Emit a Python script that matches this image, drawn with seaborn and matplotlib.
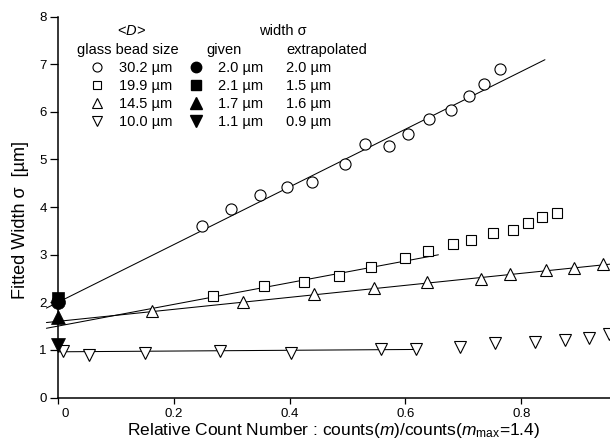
import numpy as np
import matplotlib
matplotlib.use("Agg")
import matplotlib.pyplot as plt
import matplotlib.transforms as mtransforms
import seaborn as sns

# Fitted width sigma versus relative count number for four glass-bead sizes
circ_x = [0.248, 0.299, 0.349, 0.396, 0.439, 0.496, 0.531, 0.572, 0.605, 0.641,
          0.678, 0.710, 0.735, 0.763]
circ_y = [3.60, 3.95, 4.25, 4.43, 4.53, 4.91, 5.32, 5.28, 5.53, 5.85,
          6.03, 6.34, 6.58, 6.90]

sq_x = [0.268, 0.356, 0.425, 0.485, 0.540, 0.600, 0.639, 0.682, 0.714, 0.751,
        0.785, 0.811, 0.836, 0.861]
sq_y = [2.14, 2.34, 2.43, 2.55, 2.74, 2.93, 3.08, 3.23, 3.30, 3.46,
        3.52, 3.66, 3.80, 3.88]

tri_x = [0.162, 0.320, 0.443, 0.545, 0.637, 0.730, 0.781, 0.843, 0.892, 0.942]
tri_y = [1.82, 2.01, 2.17, 2.29, 2.43, 2.50, 2.59, 2.67, 2.73, 2.80]

inv_x = [0.009, 0.054, 0.150, 0.280, 0.402, 0.558, 0.618, 0.694, 0.755, 0.823,
         0.876, 0.917, 0.952]
inv_y = [0.98, 0.89, 0.93, 0.97, 0.93, 1.02, 1.02, 1.07, 1.14, 1.17,
         1.21, 1.26, 1.33]

# linear fits: intercept, slope and x range of each fitted segment
fit_intercept = [2.0, 1.5, 1.6, 0.96]
fit_slope = [6.06, 2.28, 1.26, 0.08]
fit_xmin = [-0.02, -0.02, -0.02, 0.0]
fit_xmax = [0.841, 0.657, 0.955, 0.617]

# given widths, drawn on the sigma axis
given_sigma = [2.0, 2.1, 1.7, 1.1]

# table text
bead_sizes = ["30.2 µm", "19.9 µm", "14.5 µm", "10.0 µm"]
given_text = ["2.0 µm", "2.1 µm", "1.7 µm", "1.1 µm"]
extrap_text = ["2.0 µm", "1.5 µm", "1.6 µm", "0.9 µm"]

x_ticks = [0, 0.2, 0.4, 0.6, 0.8]
x_tick_labels = ["0", "0.2", "0.4", "0.6", "0.8"]
y_ticks = [0, 1, 2, 3, 4, 5, 6, 7, 8]

sns.set_theme(style="ticks")
plt.rcParams["font.family"] = ["Liberation Sans", "DejaVu Sans"]
plt.rcParams["mathtext.fontset"] = "custom"
plt.rcParams["mathtext.rm"] = "Liberation Sans"
plt.rcParams["mathtext.it"] = "Liberation Sans:italic"
plt.rcParams["axes.edgecolor"] = "black"
plt.rcParams["xtick.color"] = "black"
plt.rcParams["ytick.color"] = "black"
plt.rcParams["text.color"] = "black"
plt.rcParams["axes.labelcolor"] = "black"

W, H = 610, 440
fig = plt.figure(figsize=(W / 100, H / 100), dpi=100)
ax = fig.add_axes([58 / W, 1 - 397.5 / H, (W - 58) / W, (397.5 - 16.7) / H])

open_styles = [("o", 8.0), ("s", 6.8), ("^", 8.2), ("v", 8.2)]
series = [(circ_x, circ_y), (sq_x, sq_y), (tri_x, tri_y), (inv_x, inv_y)]

# fit lines
for a, b, x0, x1 in zip(fit_intercept, fit_slope, fit_xmin, fit_xmax):
    xs = np.array([x0, x1])
    sns.lineplot(x=xs, y=a + b * xs, ax=ax, color="black", linewidth=0.75,
                 clip_on=False, sort=False)

# open symbols: measured widths
for (mk, ms), (xs, ys) in zip(open_styles, series):
    sns.lineplot(x=xs, y=ys, ax=ax, marker=mk, linestyle="none", ms=ms,
                 mfc="white", mec="black", mew=0.8, color="black",
                 clip_on=False, zorder=3)

# filled symbols: given widths on the y axis
filled_styles = [("o", 10.0), ("s", 9.0), ("^", 10.5), ("v", 10.5)]
for (mk, ms), g in zip(filled_styles, given_sigma):
    sns.lineplot(x=[0.0], y=[g], ax=ax, marker=mk, linestyle="none", ms=ms,
                 mfc="black", mec="black", mew=0.5, color="black",
                 clip_on=False, zorder=5)

ax.set_xlim(0, (W - 58) / 579)
ax.set_ylim(0, 8)
ax.set_xticks(x_ticks)
ax.set_xticklabels(x_tick_labels)
ax.set_yticks(y_ticks)
ax.tick_params(axis="both", direction="out", width=0.9,
               labelsize=9.5, colors="black")
ax.tick_params(axis="x", length=4.5, pad=3)
ax.tick_params(axis="y", length=6, pad=2)
for side in ("top", "right"):
    ax.spines[side].set_visible(False)
for side in ("left", "bottom"):
    ax.spines[side].set_linewidth(1.1)
    ax.spines[side].set_color("black")

# nudge the "0" label away from the vertical axis
zero_lbl = ax.xaxis.get_major_ticks()[0].label1
zero_lbl.set_transform(zero_lbl.get_transform()
                       + mtransforms.ScaledTranslation(0.07, 0, fig.dpi_scale_trans))

ax.set_xlabel(r"Relative Count Number : counts($m$)/counts($m_{\rm max}$=1.4)",
              fontsize=12.5, labelpad=0.5)
ax.set_ylabel("Fitted Width σ  [µm]", fontsize=13)
ax.yaxis.set_label_coords(-0.052, 0.466)

# table of bead sizes and widths
def fx(px):
    return px / W

def fy(py):
    return 1 - py / H

fs = 10.5
fig.text(fx(131.7), fy(35), r"<$D$>", fontsize=fs, ha="center", va="baseline")
fig.text(fx(283), fy(35), "width σ", fontsize=fs, ha="center", va="baseline")
fig.text(fx(76.7), fy(54), "glass bead size", fontsize=fs, ha="left", va="baseline")
fig.text(fx(206.7), fy(54), "given", fontsize=fs, ha="left", va="baseline")
fig.text(fx(286), fy(54), "extrapolated", fontsize=fs, ha="left", va="baseline")

row_y = [66.7, 85, 102.7, 120.7]
tbl_open = [("o", 6.5), ("s", 5.5), ("^", 7.0), ("v", 7.0)]
tbl_filled = [("o", 7.5), ("s", 6.5), ("^", 8.0), ("v", 8.0)]
for i, ry in enumerate(row_y):
    mk, ms = tbl_open[i]
    ax.plot([fx(96.7)], [fy(ry)], marker=mk, ms=ms, mfc="white", mec="black",
            mew=0.8, linestyle="none", transform=fig.transFigure, clip_on=False)
    mk, ms = tbl_filled[i]
    ax.plot([fx(195.7)], [fy(ry)], marker=mk, ms=ms, mfc="black", mec="black",
            linestyle="none", transform=fig.transFigure, clip_on=False)
    fig.text(fx(119), fy(ry + 5.2), bead_sizes[i], fontsize=fs, ha="left", va="baseline")
    fig.text(fx(218), fy(ry + 5.2), given_text[i], fontsize=fs, ha="left", va="baseline")
    fig.text(fx(286), fy(ry + 5.2), extrap_text[i], fontsize=fs, ha="left", va="baseline")

fig.savefig("out.png", dpi=100, facecolor="white")
